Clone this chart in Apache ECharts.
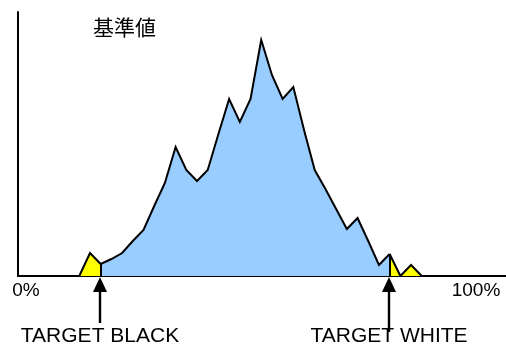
<!DOCTYPE html>
<html>
<head>
<meta charset="utf-8">
<script src="https://cdn.jsdelivr.net/npm/echarts@6/dist/echarts.min.js"></script>
<style>
  html, body { margin: 0; padding: 0; background: #fff; }
  #chart { width: 506px; height: 345px; }
</style>
</head>
<body>
<div id="chart"></div>
<script>
// Tone histogram: pixel counts per level bin, position on the 0–100% scale
const titleText = '基準値';
const tickLabels = ['0%', '100%'];
const binStartPct = 12.56;   // position of the first bin on the 0–100% axis
const binStepPct = 2.193;    // width of one bin on the 0–100% axis
const counts = [0, 23, 12, 17, 23, 35, 46, 70, 93, 129, 106, 95, 106, 142, 177, 154,
                177, 236, 201, 177, 189, 146, 106, 87, 67, 47, 58, 35, 11, 22, 0, 11, 0];
const targetNames = ['TARGET BLACK', 'TARGET WHITE'];
const targetBins = [2, 29];

const levels = counts.map((_, i) => +(binStartPct + i * binStepPct).toFixed(3));
const pts = counts.map((c, i) => [levels[i], c]);

const blackBin = targetBins[0], whiteBin = targetBins[1];
const shadowsClip = pts.slice(0, blackBin + 1);
const inRange = pts.slice(blackBin, whiteBin + 1);
const highlightsClip = pts.slice(whiteBin);

const FONT = '"Liberation Sans", Arial, sans-serif';
const CJK = '"Noto Sans CJK JP", "Noto Sans CJK SC", sans-serif';
const YELLOW = '#ffff00';
const BLUE = '#99ccff';

function areaSeries(data, fill, marks) {
  return {
    type: 'line',
    data: data,
    symbol: 'none',
    silent: true,
    z: 2,
    lineStyle: { color: '#000', width: 2, join: 'miter' },
    areaStyle: { color: fill, opacity: 1 },
    markLine: marks ? {
      silent: true,
      symbol: 'none',
      label: { show: false },
      lineStyle: { color: '#000', width: 2, type: 'solid' },
      data: marks.map(p => [{ coord: [p[0], 0] }, { coord: [p[0], p[1]] }])
    } : undefined
  };
}

const chart = echarts.init(document.getElementById('chart'), null, { renderer: 'canvas' });
chart.setOption({
  animation: false,
  backgroundColor: '#fff',
  grid: { left: 18, right: 0, top: 12, bottom: 69, containLabel: false },
  xAxis: {
    type: 'value', min: 0, max: 100,
    axisLine: { show: true, lineStyle: { color: '#000', width: 2 } },
    axisTick: { show: false }, axisLabel: { show: false }, splitLine: { show: false }
  },
  yAxis: {
    type: 'value', min: 0, max: 264,
    axisLine: { show: true, lineStyle: { color: '#000', width: 2 } },
    axisTick: { show: false }, axisLabel: { show: false }, splitLine: { show: false }
  },
  series: [
    areaSeries(shadowsClip, YELLOW),
    areaSeries(highlightsClip, YELLOW),
    areaSeries(inRange, BLUE, [pts[blackBin], pts[whiteBin]])
  ]
});

// Annotations placed from the axis scale
const originPx = chart.convertToPixel({ gridIndex: 0 }, [0, 0]);
const fullPx = chart.convertToPixel({ gridIndex: 0 }, [100, 0]);
const axisY = originPx[1];
const shaftEnds = [axisY + 47, axisY + 56];

const graphics = [
  {
    type: 'text', left: 93, top: 17,
    style: { text: titleText, font: '21px ' + CJK, fill: '#000' }
  },
  {
    type: 'text', x: originPx[0] + 8, y: axisY + 15,
    style: { text: tickLabels[0], font: '19px ' + FONT, fill: '#000', align: 'center', verticalAlign: 'middle' }
  },
  {
    type: 'text', x: fullPx[0] - 30, y: axisY + 15,
    style: { text: tickLabels[1], font: '19px ' + FONT, fill: '#000', align: 'center', verticalAlign: 'middle' }
  }
];

targetBins.forEach((b, k) => {
  const px = Math.round(chart.convertToPixel({ gridIndex: 0 }, [levels[b], 0])[0]) - 1;
  graphics.push({
    type: 'polygon',
    shape: { points: [[px, axisY + 1], [px - 7, axisY + 16], [px + 7, axisY + 16]] },
    style: { fill: '#000' }
  });
  graphics.push({
    type: 'rect',
    shape: { x: px - 1.2, y: axisY + 14, width: 2.4, height: shaftEnds[k] - axisY - 14 },
    style: { fill: '#000' }
  });
  graphics.push({
    type: 'text', x: px, y: axisY + 60, z: 10,
    style: { text: targetNames[k], font: '21px ' + FONT, fill: '#000', align: 'center', verticalAlign: 'middle' }
  });
});

chart.setOption({ graphic: graphics });
</script>
</body>
</html>
